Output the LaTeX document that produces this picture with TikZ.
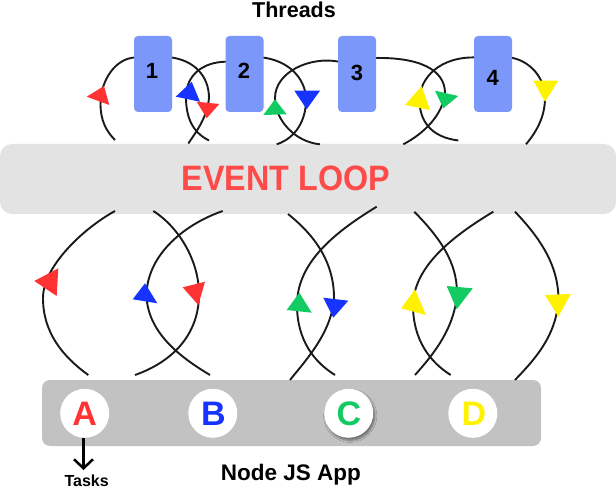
\documentclass[tikz,border=0pt]{standalone}
\usepackage{fontspec}
\setmainfont{Liberation Sans}
\usepackage{graphicx}
\usetikzlibrary{arrows.meta,shadows.blur}
\definecolor{tred}{HTML}{FF3333}
\definecolor{tblue}{HTML}{1633FF}
\definecolor{tgreen}{HTML}{12CC63}
\definecolor{tyellow}{HTML}{FFF200}
\definecolor{loopred}{HTML}{FF4A4A}
\definecolor{boxblue}{HTML}{7B97FA}
\definecolor{barlight}{HTML}{E3E3E3}
\definecolor{bardark}{HTML}{C2C2C2}
\definecolor{ink}{HTML}{1A1A1A}
\begin{document}
\begin{tikzpicture}[x=1pt,y=-1pt,
  curve/.style={line width=1.9pt, draw=ink},
  threadbox/.style={rectangle, rounded corners=4pt, fill=boxblue, minimum width=38pt, minimum height=76pt, inner sep=0pt},
  numlabel/.style={font=\fontsize{22}{24}\selectfont\bfseries, anchor=base, inner sep=0pt},
  taskcircle/.style={circle, fill=white, minimum size=49pt, inner sep=0pt},
  letter/.style={font=\fontsize{34}{36}\selectfont\bfseries, anchor=base, inner sep=0pt},
  bold/.style={font=\fontsize{#1}{#1}\selectfont\bfseries, anchor=base, inner sep=0pt}
]
\useasboundingbox (0,0) rectangle (616,489);

% bars
\node[rectangle, rounded corners=12pt, fill=barlight, minimum width=616pt, minimum height=70pt, inner sep=0pt] (loop) at (308,179) {};
\node[rectangle, rounded corners=8pt, fill=bardark, minimum width=499pt, minimum height=66pt, inner sep=0pt] (app) at (291.5,413) {};

% top curves (threads)
\draw[curve] (136,57.5) .. controls (116,57.5) and (100.5,80) .. (100.5,104) .. controls (100.5,120) and (106,131) .. (115,140);
\draw[curve] (170,57.3) .. controls (194,60) and (209,76) .. (209,98) .. controls (207,118) and (196,132) .. (188.3,143.5);
\draw[curve] (226,61.7) .. controls (203,62) and (186,75) .. (186,97) .. controls (186,117) and (192,132) .. (209,140.5);
\draw[curve] (261,57.3) .. controls (288,60) and (306,78) .. (306,100) .. controls (306,120) and (296,138) .. (276.7,144.3);
\draw[curve] (339,61.7) .. controls (310,56) and (275,72) .. (275,98) .. controls (275,120) and (295,142) .. (320,144.3);
\draw[curve] (374,58) .. controls (420,57) and (445,70) .. (445,93) .. controls (443,114) and (425,133) .. (403.3,144.3);
\draw[curve] (477,57.5) .. controls (440,56) and (419.5,78) .. (419.5,100) .. controls (419.5,120) and (430,137) .. (458.3,140.5);
\draw[curve] (509,57.3) .. controls (530,60) and (545,78) .. (545,98) .. controls (545,115) and (538,130) .. (526,144.3);

% bottom curves
\draw[curve] (115,211) .. controls (84,228) and (43,266) .. (43,298) .. controls (43,332) and (62,356) .. (88.3,375);
\draw[curve] (153.3,211) .. controls (180,228) and (199,262) .. (199,294) .. controls (199,335) and (172,362) .. (135,375);
\draw[curve] (222.7,211) .. controls (180,226) and (146.5,258) .. (146.5,296) .. controls (148,335) and (185,360) .. (210,375);
\draw[curve] (288,214) .. controls (318,238) and (334,265) .. (334,298) .. controls (332,332) and (306,360) .. (290,380);
\draw[curve] (376.7,206.7) .. controls (330,235) and (297,265) .. (297,305) .. controls (297,340) and (314,362) .. (335,375);
\draw[curve] (414.3,211.7) .. controls (440,238) and (457,262) .. (457,293) .. controls (455,330) and (430,358) .. (415,375);
\draw[curve] (493.3,211.7) .. controls (453,236) and (414,266) .. (413,305) .. controls (413,340) and (430,362) .. (450.7,375);
\draw[curve] (515,211.7) .. controls (540,238) and (558.5,265) .. (558.5,300) .. controls (556,338) and (532,362) .. (515,380);

% thread boxes
\node[threadbox] (t1) at (153,74) {};
\node[threadbox] (t2) at (244.5,74) {};
\node[threadbox] (t3) at (357,74) {};
\node[threadbox] (t4) at (493,74) {};
\node[numlabel] (n1) at (152,79) {1};
\node[numlabel] (n2) at (244,79) {2};
\node[numlabel] (n3) at (357,80.5) {3};
\node[numlabel] (n4) at (492.7,86) {4};

% top triangles
\fill[tred] (86.7,96.7) -- (104,86) -- (109.3,105) -- cycle;
\fill[tblue] (175.7,96.7) -- (191.7,81.7) -- (200,101.7) -- cycle;
\fill[tred] (196.7,101.7) -- (219.3,104) -- (206.7,118.3) -- cycle;
\fill[tgreen] (263.3,115) -- (275,99.3) -- (286.7,114.3) -- cycle;
\fill[tblue] (294.3,90.7) -- (320,90.7) -- (306.7,109.3) -- cycle;
\fill[tyellow] (405,105) -- (421.7,86) -- (430,110) -- cycle;
\fill[tgreen] (435,90.7) -- (458.3,96) -- (443.3,108.3) -- cycle;
\fill[tyellow] (533.3,80.7) -- (558.3,80.7) -- (545,101.7) -- cycle;

% bottom triangles
\fill[tred] (34.3,281) -- (58.3,268.3) -- (56.7,296) -- cycle;
\fill[tred] (182.7,287.3) -- (205,281.7) -- (198.3,305) -- cycle;
\fill[tblue] (132.7,299.3) -- (145,283.3) -- (157.3,303.3) -- cycle;
\fill[tgreen] (286.7,310) -- (299.3,292.7) -- (311.7,312.7) -- cycle;
\fill[tblue] (323.3,297.7) -- (348.3,300.7) -- (333.3,317.7) -- cycle;
\fill[tgreen] (446.7,286) -- (472.7,288.3) -- (456.7,309.3) -- cycle;
\fill[tyellow] (401,308.3) -- (415,289.3) -- (426,315) -- cycle;
\fill[tyellow] (545,295) -- (570.7,294) -- (558.3,316.7) -- cycle;

% texts
\node[bold=21.5] (title) at (294,17.3) {Threads};
\node[bold=35.3, text=loopred] (looptext) at (285.8,191) {\scalebox{0.915}[1]{EVENT LOOP}};
\node[bold=22.5] (apptext) at (290.8,480) {Node JS App};

% task circles
\node[taskcircle] (cA) at (84.7,413.3) {};
\node[taskcircle] (cB) at (212.8,413.3) {};
\node[taskcircle, blur shadow={shadow xshift=1.5pt, shadow yshift=-2.5pt, shadow blur steps=6, shadow opacity=45}] (cC) at (348.7,413.3) {};
\node[taskcircle] (cD) at (472.8,413.3) {};
\node[letter, text=tred] (lA) at (84.7,425) {A};
\node[letter, text=tblue] (lB) at (213.3,425) {B};
\node[letter, text=tgreen] (lC) at (349,425) {C};
\node[letter, text=tyellow] (lD) at (474,425) {D};

% tasks arrow
\coordinate (tasktip) at (83.5,470);
\draw[line width=2.5pt, draw=black, -{Straight Barb[length=9pt,width=19pt]}] (cA.south -| tasktip) -- (tasktip);
\node[bold=16] (tasks) at (86.7,486) {Tasks};
\end{tikzpicture}
\end{document}
